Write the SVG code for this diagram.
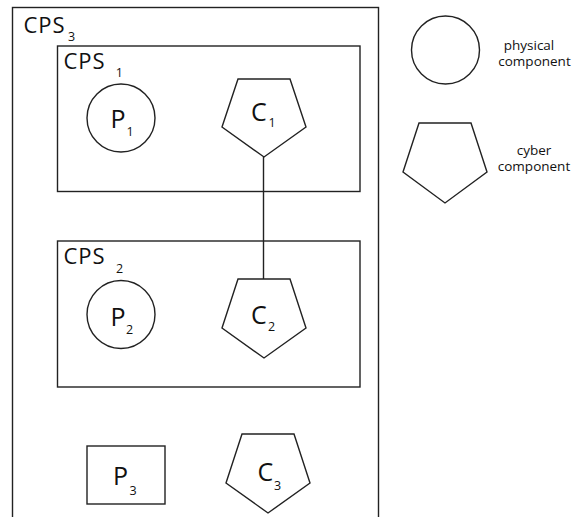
<svg xmlns="http://www.w3.org/2000/svg" width="578" height="517" viewBox="0 0 578 517">
<style>
.s{fill:none;stroke:#222;stroke-width:1.4}
.t{font-family:"Open Sans","DejaVu Sans",sans-serif;fill:#111}
.big{font-size:22px;letter-spacing:1px}
.lbl{font-size:25px}
.sub{font-size:12.5px;letter-spacing:0}
.leg{font-size:13.5px;text-anchor:middle}
</style>
<rect width="578" height="517" fill="#fff"/>
<g id="CPS3">
<rect class="s" x="12.5" y="7.5" width="366" height="520"/>
<text class="t big" x="23.5" y="32.7">CPS<tspan class="sub" x="68" y="40.7">3</tspan></text>
</g>
<g id="CPS1">
<rect class="s" x="57.5" y="46" width="302.5" height="145.5"/>
<text class="t big" x="63.5" y="68.7">CPS<tspan class="sub" x="115.7" y="77.3">1</tspan></text>
</g>
<g id="CPS2">
<rect class="s" x="57.5" y="241" width="302.5" height="146"/>
<text class="t big" x="63.5" y="263.7">CPS<tspan class="sub" x="116" y="272.5">2</tspan></text>
</g>
<g id="connectors">
<line class="s" x1="263.5" y1="157" x2="263.5" y2="279" stroke-width="2"/>
</g>
<g id="P1">
<circle class="s" cx="121" cy="118" r="34"/>
<text class="t lbl" x="110.5" y="128.3">P<tspan class="sub" x="126.5" y="136">1</tspan></text>
</g>
<g id="C1">
<polygon class="s" points="238,79 290,79 306,127 264,157 222,127"/>
<text class="t lbl" x="251" y="120.7">C<tspan class="sub" x="268.5" y="127.3">1</tspan></text>
</g>
<g id="P2">
<circle class="s" cx="121" cy="314.5" r="34"/>
<text class="t lbl" x="110.5" y="326">P<tspan class="sub" x="126" y="333.5">2</tspan></text>
</g>
<g id="C2">
<polygon class="s" points="238,279 290,279 306,328 264,358 222,328"/>
<text class="t lbl" x="251" y="324">C<tspan class="sub" x="268" y="331">2</tspan></text>
</g>
<g id="P3">
<rect class="s" x="87" y="446" width="78" height="58"/>
<text class="t lbl" x="113" y="485">P<tspan class="sub" x="129.5" y="494.5">3</tspan></text>
</g>
<g id="C3">
<polygon class="s" points="242,434 294,434 310,483 268,513 226,483"/>
<text class="t lbl" x="257.5" y="481">C<tspan class="sub" x="274" y="489.5">3</tspan></text>
</g>
<g id="legend-physical">
<circle class="s" cx="445.5" cy="50" r="34"/>
<text class="t leg" x="529" y="50">physical</text>
<text class="t leg" x="534.5" y="66">component</text>
</g>
<g id="legend-cyber">
<polygon class="s" points="419,123 471,123 487,172 445,203 403,172"/>
<text class="t leg" x="534" y="155">cyber</text>
<text class="t leg" x="534" y="171">component</text>
</g>
</svg>
